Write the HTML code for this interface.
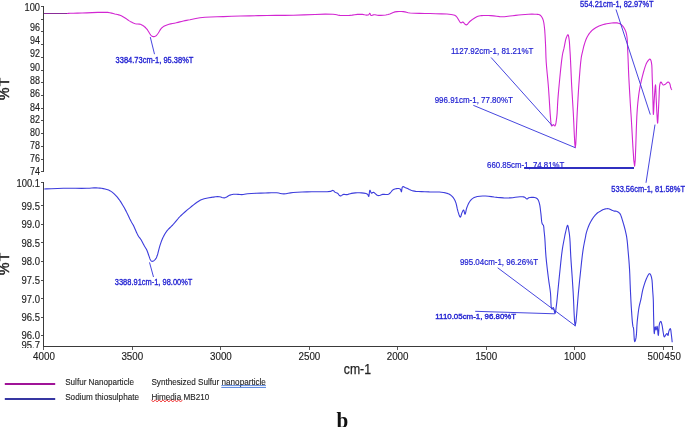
<!DOCTYPE html><html><head><meta charset="utf-8"><title>FTIR</title>
<style>html,body{margin:0;padding:0;background:#fff}svg{display:block}text{font-family:"Liberation Sans",sans-serif}</style></head><body>
<svg width="685" height="427" viewBox="0 0 685 427">
<rect width="685" height="427" fill="#fff"/>
<g stroke="#3a3a3a" stroke-width="1" fill="none" shape-rendering="crispEdges">
<line x1="43.5" y1="6" x2="43.5" y2="172"/>
<line x1="43.5" y1="182" x2="43.5" y2="347"/>
<line x1="43" y1="346.5" x2="673" y2="346.5"/>
<line x1="41" y1="6.5" x2="43" y2="6.5" stroke="#505050"/>
<line x1="41" y1="19.5" x2="43" y2="19.5" stroke="#505050"/>
<line x1="41" y1="31.5" x2="43" y2="31.5" stroke="#505050"/>
<line x1="41" y1="44.5" x2="43" y2="44.5" stroke="#505050"/>
<line x1="41" y1="57.5" x2="43" y2="57.5" stroke="#505050"/>
<line x1="41" y1="70.5" x2="43" y2="70.5" stroke="#505050"/>
<line x1="41" y1="82.5" x2="43" y2="82.5" stroke="#505050"/>
<line x1="41" y1="95.5" x2="43" y2="95.5" stroke="#505050"/>
<line x1="41" y1="108.5" x2="43" y2="108.5" stroke="#505050"/>
<line x1="41" y1="120.5" x2="43" y2="120.5" stroke="#505050"/>
<line x1="41" y1="133.5" x2="43" y2="133.5" stroke="#505050"/>
<line x1="41" y1="146.5" x2="43" y2="146.5" stroke="#505050"/>
<line x1="41" y1="159.5" x2="43" y2="159.5" stroke="#505050"/>
<line x1="41" y1="171.5" x2="43" y2="171.5" stroke="#505050"/>
<line x1="41" y1="182.5" x2="43" y2="182.5" stroke="#505050"/>
<line x1="41" y1="205.5" x2="43" y2="205.5" stroke="#505050"/>
<line x1="41" y1="224.5" x2="43" y2="224.5" stroke="#505050"/>
<line x1="41" y1="242.5" x2="43" y2="242.5" stroke="#505050"/>
<line x1="41" y1="261.5" x2="43" y2="261.5" stroke="#505050"/>
<line x1="41" y1="280.5" x2="43" y2="280.5" stroke="#505050"/>
<line x1="41" y1="298.5" x2="43" y2="298.5" stroke="#505050"/>
<line x1="41" y1="317.5" x2="43" y2="317.5" stroke="#505050"/>
<line x1="41" y1="335.5" x2="43" y2="335.5" stroke="#505050"/>
</g>
<g stroke="#5a5a5a" stroke-width="1" fill="none" shape-rendering="crispEdges">
<line x1="43.5" y1="347" x2="43.5" y2="350"/>
<line x1="132.5" y1="347" x2="132.5" y2="350"/>
<line x1="220.5" y1="347" x2="220.5" y2="350"/>
<line x1="309.5" y1="347" x2="309.5" y2="350"/>
<line x1="397.5" y1="347" x2="397.5" y2="350"/>
<line x1="486.5" y1="347" x2="486.5" y2="350"/>
<line x1="574.5" y1="347" x2="574.5" y2="350"/>
<line x1="663.5" y1="347" x2="663.5" y2="350"/>
<line x1="672.5" y1="347" x2="672.5" y2="350"/>
</g>
<g stroke="#222" stroke-width="0.15">
<text x="40" y="11.1" font-size="10.6" text-anchor="end" textLength="15.5" lengthAdjust="spacingAndGlyphs" fill="#222">100</text>
<text x="40" y="30.7" font-size="10.6" text-anchor="end" textLength="10" lengthAdjust="spacingAndGlyphs" fill="#222">96</text>
<text x="40" y="44.2" font-size="10.6" text-anchor="end" textLength="10" lengthAdjust="spacingAndGlyphs" fill="#222">94</text>
<text x="40" y="57.2" font-size="10.6" text-anchor="end" textLength="10" lengthAdjust="spacingAndGlyphs" fill="#222">92</text>
<text x="40" y="71.2" font-size="10.6" text-anchor="end" textLength="10" lengthAdjust="spacingAndGlyphs" fill="#222">90</text>
<text x="40" y="84.2" font-size="10.6" text-anchor="end" textLength="10" lengthAdjust="spacingAndGlyphs" fill="#222">88</text>
<text x="40" y="97.2" font-size="10.6" text-anchor="end" textLength="10" lengthAdjust="spacingAndGlyphs" fill="#222">86</text>
<text x="40" y="110.5" font-size="10.6" text-anchor="end" textLength="10" lengthAdjust="spacingAndGlyphs" fill="#222">84</text>
<text x="40" y="123.0" font-size="10.6" text-anchor="end" textLength="10" lengthAdjust="spacingAndGlyphs" fill="#222">82</text>
<text x="40" y="136.2" font-size="10.6" text-anchor="end" textLength="10" lengthAdjust="spacingAndGlyphs" fill="#222">80</text>
<text x="40" y="149.4" font-size="10.6" text-anchor="end" textLength="10" lengthAdjust="spacingAndGlyphs" fill="#222">78</text>
<text x="40" y="162.4" font-size="10.6" text-anchor="end" textLength="10" lengthAdjust="spacingAndGlyphs" fill="#222">76</text>
<text x="40" y="174.7" font-size="10.6" text-anchor="end" textLength="10" lengthAdjust="spacingAndGlyphs" fill="#222">74</text>
<text x="40" y="186.5" font-size="10.6" text-anchor="end" textLength="23.6" lengthAdjust="spacingAndGlyphs" fill="#222">100.1</text>
<text x="40" y="209.9" font-size="10.6" text-anchor="end" textLength="18.5" lengthAdjust="spacingAndGlyphs" fill="#222">99.5</text>
<text x="40" y="228.2" font-size="10.6" text-anchor="end" textLength="18.5" lengthAdjust="spacingAndGlyphs" fill="#222">99.0</text>
<text x="40" y="246.9" font-size="10.6" text-anchor="end" textLength="18.5" lengthAdjust="spacingAndGlyphs" fill="#222">98.5</text>
<text x="40" y="264.9" font-size="10.6" text-anchor="end" textLength="18.5" lengthAdjust="spacingAndGlyphs" fill="#222">98.0</text>
<text x="40" y="284.4" font-size="10.6" text-anchor="end" textLength="18.5" lengthAdjust="spacingAndGlyphs" fill="#222">97.5</text>
<text x="40" y="302.9" font-size="10.6" text-anchor="end" textLength="18.5" lengthAdjust="spacingAndGlyphs" fill="#222">97.0</text>
<text x="40" y="321.2" font-size="10.6" text-anchor="end" textLength="18.5" lengthAdjust="spacingAndGlyphs" fill="#222">96.5</text>
<text x="40" y="338.7" font-size="10.6" text-anchor="end" textLength="18.5" lengthAdjust="spacingAndGlyphs" fill="#222">96.0</text>
</g>
<clipPath id="c957"><rect x="0" y="330" width="44" height="18"/></clipPath>
<g clip-path="url(#c957)"><text x="40" y="348.8" font-size="10.6" stroke="#222" stroke-width="0.15" text-anchor="end" textLength="18.5" lengthAdjust="spacingAndGlyphs" fill="#222">95.7</text></g>
<text x="44" y="360.4" font-size="11.1" stroke="#222" stroke-width="0.15" text-anchor="middle" textLength="21.8" lengthAdjust="spacingAndGlyphs" fill="#222">4000</text>
<text x="132.3" y="360.4" font-size="11.1" stroke="#222" stroke-width="0.15" text-anchor="middle" textLength="21.8" lengthAdjust="spacingAndGlyphs" fill="#222">3500</text>
<text x="220.9" y="360.4" font-size="11.1" stroke="#222" stroke-width="0.15" text-anchor="middle" textLength="21.8" lengthAdjust="spacingAndGlyphs" fill="#222">3000</text>
<text x="309.4" y="360.4" font-size="11.1" stroke="#222" stroke-width="0.15" text-anchor="middle" textLength="21.8" lengthAdjust="spacingAndGlyphs" fill="#222">2500</text>
<text x="397.6" y="360.4" font-size="11.1" stroke="#222" stroke-width="0.15" text-anchor="middle" textLength="21.8" lengthAdjust="spacingAndGlyphs" fill="#222">2000</text>
<text x="486.3" y="360.4" font-size="11.1" stroke="#222" stroke-width="0.15" text-anchor="middle" textLength="21.8" lengthAdjust="spacingAndGlyphs" fill="#222">1500</text>
<text x="574.8" y="360.4" font-size="11.1" stroke="#222" stroke-width="0.15" text-anchor="middle" textLength="21.8" lengthAdjust="spacingAndGlyphs" fill="#222">1000</text>
<text x="663.8" y="360.4" font-size="11.1" stroke="#222" stroke-width="0.15" text-anchor="end" textLength="16.2" lengthAdjust="spacingAndGlyphs" fill="#222">500</text>
<text x="664.6" y="360.4" font-size="11.1" stroke="#222" stroke-width="0.15" text-anchor="start" textLength="16.2" lengthAdjust="spacingAndGlyphs" fill="#222">450</text>
<text x="343.8" y="374" font-size="14" textLength="27.2" lengthAdjust="spacingAndGlyphs" fill="#222" stroke="#222" stroke-width="0.25">cm-1</text>
<text transform="translate(9.3,100.0) rotate(-90) scale(1,1.02)" letter-spacing="1.4" font-size="14" fill="#222" stroke="#222" stroke-width="0.45">%T</text>
<text transform="translate(9.3,275.0) rotate(-90) scale(1,1.02)" letter-spacing="1.4" font-size="14" fill="#222" stroke="#222" stroke-width="0.45">%T</text>
<polyline points="66.00,13.50 66.37,13.48 67.33,13.43 68.62,13.36 70.00,13.30 73.32,13.19 77.51,13.08 82.12,12.96 86.70,12.85 92.07,12.64 97.81,12.37 103.28,12.23 107.80,12.40 109.85,12.71 111.61,13.12 113.22,13.58 114.80,14.00 116.16,14.30 117.47,14.57 118.74,14.89 120.00,15.30 121.30,15.86 122.58,16.53 123.84,17.25 125.10,18.00 126.38,18.83 127.65,19.72 128.91,20.60 130.20,21.40 131.45,22.10 132.72,22.77 134.00,23.35 135.30,23.80 136.59,24.00 137.91,24.05 139.20,24.09 140.40,24.30 141.38,24.67 142.29,25.15 143.16,25.70 144.00,26.30 144.84,26.99 145.65,27.77 146.41,28.58 147.10,29.40 147.66,30.17 148.16,30.96 148.63,31.74 149.10,32.50 149.51,33.17 149.90,33.83 150.29,34.45 150.70,35.00 151.07,35.40 151.45,35.76 151.83,36.06 152.20,36.30 152.45,36.42 152.70,36.50 152.95,36.56 153.20,36.60 153.45,36.63 153.70,36.64 153.95,36.63 154.20,36.60 154.48,36.54 154.76,36.44 155.03,36.33 155.30,36.20 155.55,36.06 155.80,35.91 156.04,35.73 156.30,35.50 156.76,35.01 157.26,34.40 157.78,33.72 158.30,33.00 158.92,32.02 159.54,30.94 160.19,29.86 160.90,28.90 161.58,28.16 162.28,27.48 163.05,26.87 163.90,26.30 165.03,25.70 166.28,25.19 167.61,24.73 169.00,24.30 170.70,23.87 172.52,23.51 174.37,23.17 176.20,22.80 178.01,22.36 179.82,21.89 181.62,21.43 183.40,21.00 185.04,20.65 186.63,20.34 188.26,20.03 190.00,19.70 192.25,19.22 194.60,18.69 197.15,18.18 200.00,17.75 205.04,17.30 210.79,17.02 216.99,16.81 223.40,16.60 231.66,16.32 240.46,16.06 249.48,15.84 258.40,15.65 267.10,15.51 275.76,15.42 284.50,15.33 293.40,15.20 303.89,14.88 315.07,14.43 325.32,14.14 333.00,14.25 335.13,14.50 336.79,14.83 338.31,15.17 340.00,15.40 342.26,15.53 344.63,15.56 347.06,15.51 349.50,15.40 352.12,15.13 354.80,14.74 357.45,14.37 360.00,14.20 362.28,14.40 364.59,14.82 366.65,15.13 368.20,15.00 368.74,14.59 369.15,14.01 369.47,13.50 369.80,13.30 370.10,13.61 370.34,14.27 370.61,14.96 371.00,15.40 371.61,15.43 372.35,15.18 373.16,14.87 374.00,14.70 375.06,14.78 376.18,15.01 377.39,15.26 378.70,15.40 380.84,15.38 383.25,15.22 385.71,14.93 388.00,14.50 389.82,13.92 391.53,13.16 393.22,12.43 395.00,11.90 397.00,11.61 399.09,11.48 401.18,11.49 403.20,11.60 404.91,11.85 406.51,12.25 408.21,12.67 410.20,13.00 414.44,13.29 419.48,13.39 424.85,13.44 430.10,13.55 435.67,13.70 441.51,13.84 446.91,14.07 451.10,14.50 452.54,14.73 453.72,14.95 454.76,15.30 455.80,15.90 457.21,17.51 458.54,19.77 459.77,21.84 460.90,22.90 461.39,22.82 461.85,22.48 462.31,22.13 462.80,22.00 463.62,22.53 464.51,23.57 465.41,24.57 466.30,25.00 467.15,24.60 467.96,23.68 468.81,22.54 469.80,21.50 471.38,20.25 473.18,18.93 475.05,17.72 476.80,16.80 477.97,16.34 479.08,16.03 480.22,15.82 481.50,15.65 483.57,15.50 485.88,15.47 488.33,15.54 490.80,15.65 493.69,15.91 496.73,16.30 499.73,16.65 502.50,16.80 504.45,16.71 506.25,16.50 508.05,16.25 510.00,16.00 512.73,15.70 515.65,15.38 518.67,15.06 521.70,14.80 525.06,14.55 528.58,14.31 531.94,14.17 534.80,14.20 536.29,14.26 537.64,14.34 538.83,14.54 539.90,15.00 540.81,15.74 541.57,16.69 542.23,17.80 542.80,19.00 543.35,20.56 543.73,22.28 544.02,24.19 544.30,26.30 544.71,30.13 545.02,34.55 545.27,39.22 545.50,43.80 545.69,48.28 545.82,52.77 545.96,57.32 546.20,62.00 546.63,67.49 547.17,73.20 547.72,78.86 548.20,84.20 548.51,88.32 548.78,92.21 549.04,96.05 549.30,100.00 549.58,104.49 549.86,109.15 550.16,113.63 550.50,117.60 550.71,120.27 550.90,122.92 551.19,125.01 551.70,126.00 552.08,125.85 552.51,125.36 552.97,124.84 553.40,124.60 553.79,124.84 554.18,125.36 554.56,125.84 554.90,126.00 555.49,125.04 555.96,122.95 556.35,120.28 556.70,117.60 557.10,113.64 557.36,109.15 557.58,104.49 557.85,100.00 558.15,96.10 558.46,92.35 558.80,88.47 559.20,84.20 559.89,77.04 560.70,68.87 561.56,61.07 562.40,55.00 562.79,52.99 563.19,51.38 563.59,49.88 564.00,48.20 564.51,45.66 565.02,42.86 565.57,40.19 566.20,38.00 566.64,36.86 567.13,35.78 567.60,34.98 568.00,34.70 568.36,35.20 568.64,36.37 568.88,37.88 569.10,39.40 569.37,41.65 569.57,44.19 569.73,46.89 569.90,49.60 570.09,52.53 570.26,55.50 570.43,58.62 570.60,62.00 570.83,67.03 571.07,72.52 571.32,78.30 571.60,84.20 571.98,91.07 572.41,98.20 572.85,105.52 573.30,113.00 573.79,123.07 574.30,134.49 574.80,143.83 575.30,147.70 575.78,143.83 576.26,134.48 576.73,123.07 577.20,113.00 577.61,105.58 578.01,98.35 578.42,91.24 578.90,84.20 579.43,77.10 580.00,69.79 580.60,63.13 581.20,58.00 581.46,56.39 581.71,55.12 581.99,53.94 582.30,52.60 582.77,50.52 583.29,48.27 583.86,45.98 584.50,43.80 585.13,41.88 585.79,40.02 586.54,38.21 587.40,36.50 588.35,34.92 589.41,33.42 590.56,32.00 591.80,30.70 593.14,29.54 594.58,28.49 596.09,27.54 597.60,26.70 599.01,26.02 600.44,25.44 601.90,24.94 603.40,24.50 605.00,24.10 606.65,23.78 608.32,23.52 610.00,23.30 611.80,23.07 613.65,22.86 615.45,22.77 617.10,22.90 618.32,23.18 619.45,23.57 620.51,24.11 621.50,24.80 622.55,25.83 623.51,27.08 624.36,28.47 625.10,29.90 625.72,31.41 626.19,32.99 626.57,34.68 626.90,36.50 627.21,39.16 627.38,42.07 627.48,45.13 627.60,48.20 627.76,51.56 627.91,55.00 628.06,58.49 628.20,62.00 628.34,65.59 628.47,69.15 628.62,72.87 628.80,76.90 629.13,83.15 629.52,90.11 629.93,97.04 630.30,103.20 630.52,106.76 630.72,109.85 630.93,113.06 631.20,117.00 631.92,129.48 632.84,145.86 633.78,160.11 634.60,166.20 635.24,160.10 635.80,145.85 636.31,129.48 636.80,117.00 637.04,112.96 637.26,109.59 637.49,106.48 637.80,103.20 638.18,99.59 638.60,95.96 639.10,92.30 639.70,88.60 640.48,84.53 641.39,80.35 642.38,76.27 643.40,72.50 644.23,69.62 645.08,66.85 645.99,64.35 647.00,62.30 647.75,61.15 648.56,60.09 649.34,59.34 650.00,59.10 650.45,59.44 650.82,60.18 651.12,61.18 651.40,62.30 651.80,65.12 651.99,68.74 652.08,72.79 652.20,76.90 652.40,82.15 652.58,87.80 652.74,93.48 652.90,98.80 653.02,103.64 653.13,108.77 653.25,112.84 653.40,114.50 653.59,112.76 653.80,108.55 654.04,103.39 654.30,98.80 654.59,94.61 654.91,90.06 655.23,86.40 655.50,84.90 655.71,86.40 655.88,90.05 656.03,94.60 656.20,98.80 656.40,102.89 656.59,107.17 656.79,111.31 657.00,115.00 657.15,117.60 657.30,120.24 657.45,122.28 657.60,123.10 657.75,122.28 657.90,120.24 658.05,117.60 658.20,115.00 658.40,111.32 658.59,107.20 658.79,102.92 659.00,98.80 659.16,94.79 659.30,90.64 659.52,86.91 659.90,84.20 660.11,83.40 660.33,82.71 660.59,82.21 660.90,82.00 661.36,82.39 661.89,83.33 662.48,84.33 663.10,84.90 663.62,84.93 664.17,84.78 664.73,84.50 665.30,84.20 666.04,83.64 666.81,82.90 667.55,82.25 668.20,82.00 668.63,82.15 669.03,82.50 669.38,82.98 669.70,83.50 670.05,84.43 670.30,85.59 670.52,86.77 670.80,87.80 671.11,88.51 671.47,89.23 671.77,89.78 671.90,90.00" fill="none" stroke="#d226d2" stroke-width="1.1" stroke-linejoin="round"/>
<polyline points="44.20,189.00 46.26,188.91 51.28,188.70 57.57,188.46 63.40,188.30 69.33,188.26 75.61,188.30 81.63,188.34 86.80,188.30 89.48,188.19 91.85,188.04 94.05,187.92 96.20,187.90 98.03,187.97 99.77,188.09 101.48,188.30 103.20,188.60 105.00,188.99 106.81,189.46 108.59,190.07 110.30,190.90 112.14,192.14 113.92,193.64 115.64,195.35 117.30,197.20 119.15,199.56 120.92,202.16 122.62,204.93 124.30,207.80 126.20,211.37 128.11,215.28 129.86,218.95 131.30,221.80 131.84,222.74 132.31,223.48 132.74,224.18 133.20,225.00 133.84,226.33 134.49,227.80 135.14,229.33 135.80,230.80 136.43,232.17 137.06,233.54 137.71,234.86 138.40,236.10 139.05,237.06 139.73,237.94 140.42,238.82 141.10,239.80 141.89,241.16 142.67,242.65 143.44,244.16 144.20,245.60 144.90,246.80 145.60,247.94 146.28,249.09 146.90,250.30 147.49,251.72 148.02,253.23 148.52,254.72 149.00,256.10 149.36,257.13 149.69,258.13 150.03,259.03 150.40,259.80 150.68,260.25 150.98,260.65 151.28,260.97 151.60,261.20 151.84,261.29 152.09,261.33 152.35,261.33 152.60,261.30 152.87,261.24 153.14,261.13 153.41,260.99 153.70,260.80 154.21,260.41 154.76,259.91 155.31,259.33 155.80,258.70 156.27,257.91 156.66,257.03 157.03,256.06 157.40,255.00 157.93,253.22 158.45,251.18 158.96,249.08 159.50,247.10 160.00,245.46 160.50,243.88 161.02,242.33 161.60,240.80 162.22,239.30 162.87,237.83 163.57,236.38 164.30,235.00 165.00,233.77 165.73,232.60 166.51,231.45 167.40,230.30 168.58,229.00 169.89,227.74 171.28,226.44 172.70,225.00 174.53,222.91 176.44,220.60 178.42,218.24 180.50,216.00 182.78,213.83 185.18,211.72 187.59,209.70 189.90,207.80 191.75,206.28 193.56,204.83 195.31,203.49 197.00,202.30 198.25,201.48 199.41,200.75 200.63,200.09 202.00,199.50 204.13,198.82 206.53,198.25 209.02,197.79 211.40,197.40 213.51,197.08 215.62,196.82 217.65,196.67 219.50,196.70 220.76,196.97 221.92,197.42 223.04,197.80 224.20,197.90 225.63,197.47 227.10,196.66 228.57,195.77 230.00,195.10 231.17,194.75 232.31,194.49 233.46,194.31 234.70,194.20 236.36,194.22 238.15,194.39 239.96,194.56 241.70,194.60 243.14,194.45 244.48,194.20 245.91,193.93 247.60,193.70 251.40,193.44 255.99,193.25 260.75,193.11 265.10,193.00 268.26,192.88 271.29,192.77 274.14,192.71 276.80,192.80 278.66,193.05 280.35,193.42 282.02,193.75 283.80,193.90 285.96,193.73 288.16,193.33 290.51,192.86 293.10,192.50 297.32,192.21 302.04,192.04 306.97,191.92 311.80,191.80 316.89,191.76 322.27,191.79 327.08,191.73 330.50,191.40 331.28,191.12 331.87,190.76 332.38,190.47 332.90,190.40 333.49,190.68 334.05,191.22 334.61,191.82 335.20,192.30 335.76,192.55 336.34,192.73 336.93,192.91 337.50,193.20 338.20,193.88 338.88,194.77 339.57,195.58 340.30,196.00 341.03,195.85 341.80,195.34 342.59,194.77 343.40,194.40 344.24,194.35 345.10,194.46 345.99,194.59 346.90,194.60 347.98,194.39 349.08,194.06 350.25,193.69 351.50,193.40 353.30,193.13 355.26,192.91 357.29,192.79 359.30,192.80 361.52,192.92 363.88,193.15 365.99,193.56 367.50,194.20 367.98,194.81 368.27,195.59 368.48,196.24 368.70,196.50 369.03,195.49 369.28,193.35 369.54,191.21 369.90,190.20 370.24,190.61 370.60,191.59 371.02,192.63 371.50,193.20 371.92,193.13 372.37,192.79 372.86,192.44 373.40,192.30 374.41,192.82 375.55,193.88 376.77,194.97 378.00,195.60 379.13,195.56 380.28,195.20 381.47,194.73 382.70,194.40 384.16,194.36 385.69,194.48 387.21,194.51 388.60,194.20 389.86,193.30 391.00,192.01 392.08,190.68 393.20,189.70 394.07,189.25 394.94,188.93 395.82,188.72 396.70,188.60 397.62,188.53 398.59,188.54 399.48,188.68 400.20,189.00 400.65,189.67 400.94,190.62 401.16,191.45 401.40,191.80 401.65,191.06 401.83,189.43 402.08,187.71 402.60,186.70 403.29,186.63 404.14,186.94 405.09,187.43 406.10,187.90 407.64,188.59 409.32,189.43 411.14,190.26 413.10,190.90 415.73,191.35 418.57,191.56 421.60,191.67 424.80,191.80 429.38,191.92 434.46,191.94 439.38,192.07 443.50,192.50 445.56,192.91 447.38,193.39 449.00,194.03 450.50,194.90 451.87,196.05 453.08,197.43 454.15,198.99 455.10,200.70 456.00,203.13 456.67,205.91 457.24,208.71 457.90,211.20 458.49,213.08 459.11,215.01 459.72,216.50 460.30,217.10 460.77,216.54 461.21,215.23 461.64,213.67 462.10,212.40 462.47,211.61 462.86,210.82 463.25,210.22 463.60,210.00 463.99,210.70 464.33,212.18 464.66,213.64 465.00,214.30 465.41,213.57 465.81,211.82 466.25,209.65 466.80,207.70 467.51,205.87 468.32,204.00 469.24,202.23 470.30,200.70 471.30,199.61 472.39,198.66 473.60,197.86 475.00,197.20 477.27,196.56 479.91,196.20 482.72,196.03 485.50,196.00 488.37,196.18 491.28,196.59 494.22,197.05 497.20,197.40 500.39,197.64 503.66,197.83 506.90,197.93 510.00,197.90 512.68,197.68 515.33,197.32 517.81,196.98 520.00,196.80 521.26,196.77 522.40,196.77 523.44,196.86 524.40,197.10 525.14,197.56 525.79,198.19 526.41,198.75 527.00,199.00 527.44,198.86 527.84,198.51 528.26,198.10 528.80,197.80 530.05,197.52 531.62,197.36 533.22,197.34 534.60,197.50 535.44,197.73 536.20,198.04 536.89,198.45 537.50,199.00 538.12,199.85 538.60,200.89 539.02,202.09 539.40,203.40 539.89,205.64 540.26,208.22 540.57,210.94 540.90,213.60 541.19,216.37 541.43,219.29 541.73,221.91 542.20,223.80 542.49,224.27 542.81,224.58 543.13,224.87 543.40,225.30 543.70,226.45 543.86,227.92 543.97,229.52 544.10,231.10 544.28,232.70 544.45,234.30 544.63,236.02 544.80,238.00 545.07,242.04 545.33,246.78 545.62,251.86 546.00,256.90 546.54,262.38 547.17,268.05 547.85,273.62 548.50,278.80 549.02,282.55 549.55,286.04 550.05,289.46 550.50,293.00 550.79,297.62 550.94,302.78 551.20,307.05 551.80,309.00 552.15,308.81 552.54,308.26 552.94,307.71 553.30,307.50 553.81,308.51 554.24,310.53 554.63,312.52 555.00,313.40 555.43,312.45 555.81,310.17 556.17,307.30 556.50,304.60 556.83,301.87 557.12,299.04 557.40,296.10 557.70,293.00 558.09,289.04 558.50,284.89 558.93,280.51 559.40,275.90 560.06,269.47 560.78,262.43 561.53,255.55 562.30,249.60 562.83,246.26 563.38,243.23 563.91,240.48 564.40,238.00 564.68,236.52 564.93,235.22 565.19,233.95 565.50,232.60 565.98,230.50 566.54,228.10 567.10,226.12 567.60,225.30 567.97,225.93 568.31,227.45 568.62,229.34 568.90,231.10 569.17,232.70 569.40,234.29 569.60,236.02 569.80,238.00 570.08,242.03 570.31,246.78 570.54,251.86 570.80,256.90 571.15,262.37 571.55,268.04 571.94,273.62 572.30,278.80 572.54,282.43 572.75,285.73 572.96,289.11 573.20,293.00 573.62,301.78 574.08,312.65 574.60,321.89 575.20,325.80 575.94,321.97 576.79,312.84 577.64,302.00 578.40,293.00 578.85,288.42 579.24,284.33 579.64,280.30 580.10,275.90 580.77,269.47 581.52,262.43 582.30,255.55 583.10,249.60 583.66,246.26 584.23,243.23 584.80,240.48 585.30,238.00 585.57,236.53 585.80,235.23 586.06,233.97 586.40,232.60 586.98,230.65 587.67,228.57 588.46,226.48 589.30,224.50 590.17,222.74 591.13,221.01 592.10,219.40 593.00,218.00 593.57,217.19 594.11,216.49 594.65,215.84 595.20,215.20 595.73,214.61 596.26,214.04 596.82,213.50 597.40,213.00 598.03,212.55 598.70,212.14 599.37,211.76 600.00,211.40 600.50,211.10 600.97,210.83 601.43,210.56 601.90,210.30 602.35,210.06 602.79,209.82 603.24,209.59 603.70,209.40 604.16,209.24 604.62,209.11 605.10,208.99 605.60,208.90 606.20,208.80 606.83,208.71 607.47,208.67 608.10,208.70 608.72,208.82 609.33,209.03 609.93,209.26 610.50,209.50 610.99,209.72 611.46,209.95 611.93,210.18 612.40,210.40 612.87,210.60 613.35,210.80 613.82,210.97 614.30,211.10 614.75,211.15 615.20,211.14 615.65,211.14 616.10,211.20 616.58,211.33 617.06,211.52 617.54,211.74 618.00,212.00 618.51,212.33 619.01,212.71 619.48,213.13 619.90,213.60 620.26,214.15 620.56,214.76 620.83,215.41 621.10,216.10 621.42,216.98 621.71,217.93 622.00,218.91 622.30,219.90 622.63,220.96 622.95,222.03 623.28,223.12 623.60,224.20 623.90,225.24 624.20,226.25 624.49,227.32 624.80,228.50 625.27,230.41 625.78,232.53 626.27,234.81 626.70,237.20 627.13,240.38 627.48,243.79 627.79,247.35 628.10,251.00 628.48,255.21 628.85,259.56 629.19,264.03 629.50,268.60 629.77,273.80 629.97,279.15 630.17,284.58 630.40,290.00 630.67,295.57 630.95,301.23 631.26,306.75 631.60,311.90 631.89,316.01 632.20,320.10 632.53,323.66 632.90,326.20 633.05,326.74 633.20,327.10 633.35,327.47 633.50,328.00 633.81,331.15 634.04,335.73 634.30,339.87 634.70,341.70 635.00,341.37 635.35,340.47 635.70,339.23 636.00,337.90 636.41,334.66 636.67,330.52 636.89,326.04 637.20,321.80 637.61,317.92 638.06,314.01 638.55,310.27 639.10,306.90 639.55,304.76 640.04,302.83 640.53,300.96 641.00,299.00 641.43,296.75 641.83,294.44 642.26,292.09 642.80,289.70 643.58,286.84 644.49,283.84 645.47,280.97 646.50,278.50 647.27,276.87 648.08,275.27 648.88,274.06 649.60,273.60 650.14,273.96 650.65,274.83 651.10,276.02 651.50,277.30 652.02,280.14 652.31,283.71 652.50,287.48 652.70,290.90 652.88,293.25 653.04,295.41 653.18,297.60 653.30,300.00 653.41,303.58 653.46,307.47 653.51,311.52 653.60,315.60 653.73,320.85 653.87,326.76 654.05,331.59 654.30,333.60 654.49,332.55 654.70,330.22 654.93,327.88 655.20,326.80 655.41,327.28 655.63,328.34 655.87,329.41 656.10,329.90 656.35,329.32 656.61,328.04 656.86,326.77 657.10,326.20 657.43,327.67 657.73,330.86 658.02,334.05 658.30,335.50 658.58,333.87 658.81,330.12 659.11,325.96 659.60,323.10 659.88,322.45 660.19,321.90 660.51,321.52 660.80,321.40 661.14,321.78 661.45,322.64 661.73,323.76 662.00,324.90 662.36,326.75 662.68,328.92 662.98,331.10 663.30,333.00 663.52,334.25 663.73,335.49 663.98,336.47 664.30,336.90 664.63,336.69 665.01,336.10 665.41,335.39 665.80,334.80 666.11,334.40 666.42,334.00 666.72,333.70 667.00,333.60 667.28,333.93 667.54,334.59 667.78,335.23 668.00,335.50 668.25,334.96 668.43,333.74 668.62,332.30 668.90,331.10 669.22,330.29 669.60,329.46 669.98,328.83 670.30,328.60 670.64,329.22 670.89,330.67 671.09,332.48 671.30,334.20 671.59,336.50 671.88,339.17 672.11,341.38 672.20,342.30" fill="none" stroke="#3c3cdc" stroke-width="1.1" stroke-linejoin="round"/>
<line x1="44" y1="13.5" x2="67" y2="13.5" stroke="#8a2c98" stroke-width="1" shape-rendering="crispEdges"/>
<g stroke="#3c3cdc" stroke-width="0.95" fill="none">
<line x1="150.3" y1="37.1" x2="154.5" y2="54.2"/>
<line x1="491.1" y1="57.5" x2="551.9" y2="125.3"/>
<line x1="473.3" y1="105.3" x2="575.3" y2="147.7"/>
<line x1="616" y1="9.5" x2="650.3" y2="114.6"/>
<line x1="655" y1="124.6" x2="646" y2="182.8"/>
<line x1="149.5" y1="262.4" x2="153.5" y2="277"/>
<line x1="497.7" y1="267.8" x2="575.2" y2="325.8"/>
<line x1="475.2" y1="311.3" x2="554.9" y2="313.8"/>
</g>
<line x1="524.1" y1="168" x2="634" y2="168" stroke="#3030c0" stroke-width="2"/>
<text x="115.6" y="62.5" font-size="9.0" textLength="77.8" lengthAdjust="spacingAndGlyphs" fill="#2222d2" stroke="#2222d2" stroke-width="0.36">3384.73cm-1, 95.38%T</text>
<text x="580.1" y="7.0" font-size="9.0" textLength="73.5" lengthAdjust="spacingAndGlyphs" fill="#2222d2" stroke="#2222d2" stroke-width="0.34">554.21cm-1, 82.97%T</text>
<text x="450.9" y="54.3" font-size="9.8" textLength="82.5" lengthAdjust="spacingAndGlyphs" fill="#2222d2" stroke="#2222d2" stroke-width="0.22">1127.92cm-1, 81.21%T</text>
<text x="434.7" y="102.7" font-size="9.7" textLength="78.2" lengthAdjust="spacingAndGlyphs" fill="#2222d2" stroke="#2222d2" stroke-width="0.22">996.91cm-1, 77.80%T</text>
<text x="487.1" y="167.5" font-size="9.1" textLength="77.2" lengthAdjust="spacingAndGlyphs" fill="#2222d2" stroke="#2222d2" stroke-width="0.22">660.85cm-1, 74.81%T</text>
<text x="611.3" y="192.3" font-size="9.1" textLength="73.7" lengthAdjust="spacingAndGlyphs" fill="#2222d2" stroke="#2222d2" stroke-width="0.34">533.56cm-1, 81.58%T</text>
<text x="114.8" y="284.6" font-size="9.3" textLength="77.6" lengthAdjust="spacingAndGlyphs" fill="#2222d2" stroke="#2222d2" stroke-width="0.34">3388.91cm-1, 98.00%T</text>
<text x="459.9" y="264.5" font-size="9.8" textLength="78.2" lengthAdjust="spacingAndGlyphs" fill="#2222d2" stroke="#2222d2" stroke-width="0.22">995.04cm-1, 96.26%T</text>
<text x="435.3" y="318.7" font-size="7.4" textLength="80.8" lengthAdjust="spacingAndGlyphs" fill="#2222d2" stroke="#2222d2" stroke-width="0.35">1110.05cm-1, 96.80%T</text>
<line x1="4.8" y1="384" x2="55.2" y2="384" stroke="#a01498" stroke-width="2"/>
<line x1="4.8" y1="399" x2="55.2" y2="399" stroke="#3636a2" stroke-width="2"/>
<text x="65.2" y="385.4" font-size="9.4" textLength="68.8" lengthAdjust="spacingAndGlyphs" fill="#222" stroke="#222" stroke-width="0.12">Sulfur Nanoparticle</text>
<text x="65.2" y="400.3" font-size="9.4" textLength="73.8" lengthAdjust="spacingAndGlyphs" fill="#222" stroke="#222" stroke-width="0.12">Sodium thiosulphate</text>
<text x="151.4" y="385.4" font-size="9.4" textLength="114.5" lengthAdjust="spacingAndGlyphs" fill="#222" stroke="#222" stroke-width="0.12">Synthesized Sulfur nanoparticle</text>
<text x="151.4" y="400.3" font-size="9.4" textLength="57.8" lengthAdjust="spacingAndGlyphs" fill="#222" stroke="#222" stroke-width="0.12">Himedia MB210</text>
<path d="M221.3 385.6H266M221.3 387.5H266" stroke="#3068d6" stroke-width="0.75" fill="none"/>
<polyline points="151.30,399.80 153.25,402.00 155.20,399.80 157.15,402.00 159.10,399.80 161.05,402.00 163.00,399.80 164.95,402.00 166.90,399.80 168.85,402.00 170.80,399.80 172.75,402.00 174.70,399.80 176.65,402.00 178.60,399.80 180.55,402.00 182.50,399.80" fill="none" stroke="#ee3030" stroke-width="0.9"/>
<text transform="translate(336.6,427.6) scale(0.9,1)" style="font-family:'Liberation Serif',serif" font-weight="bold" font-size="23.5" fill="#111">b</text>
</svg></body></html>
